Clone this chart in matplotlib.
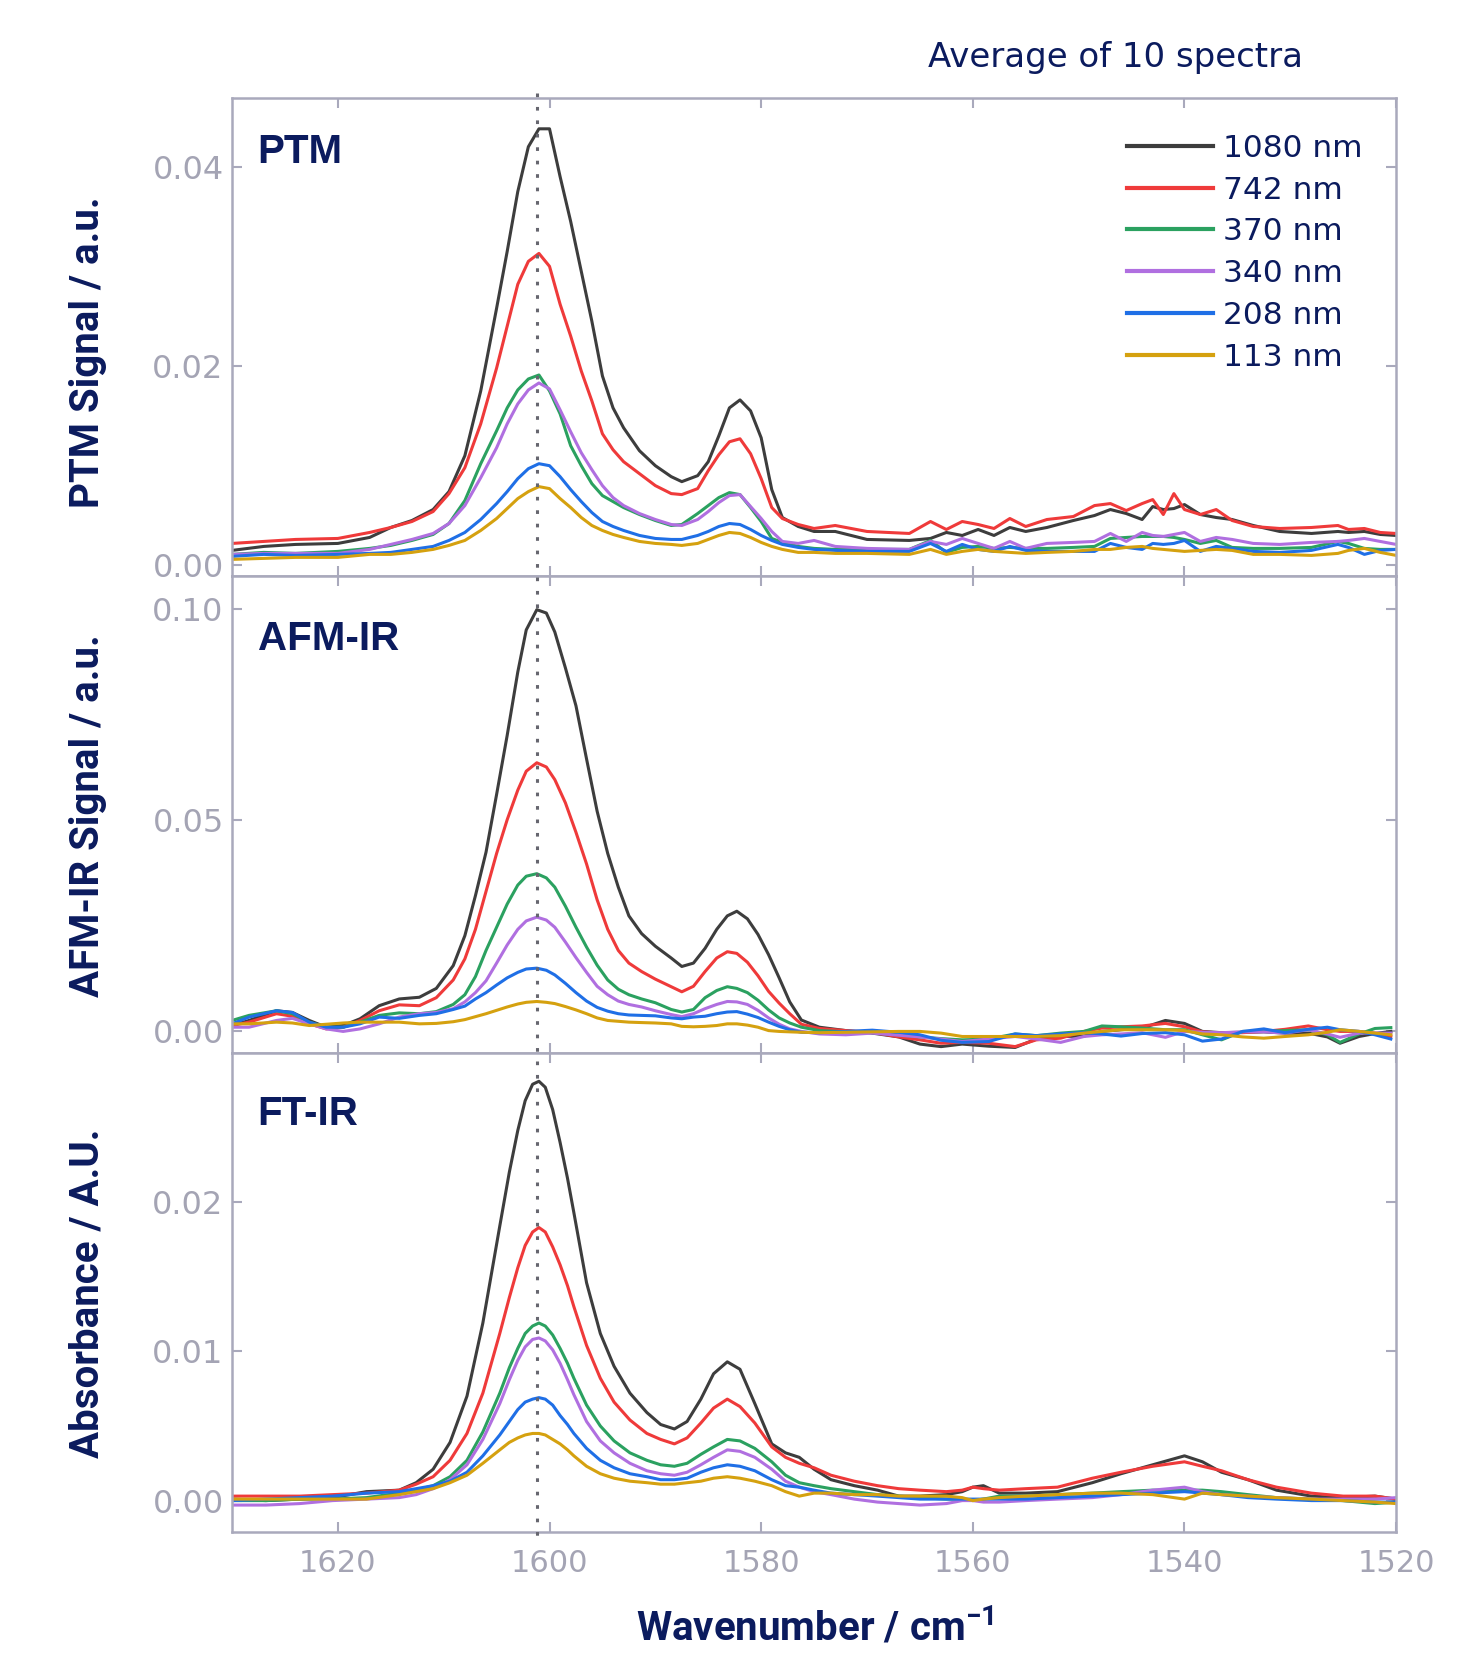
import matplotlib.pyplot as plt
from matplotlib.lines import Line2D
from matplotlib.transforms import blended_transform_factory

# legend labels and line colours (tip size)
LABELS = ['1080 nm', '742 nm', '370 nm', '340 nm', '208 nm', '113 nm']
COLORS = ['#3d3d3d', '#ef3a3a', '#2ba160', '#b06fe0', '#1f6fe6', '#d5a10f']
PEAK_POS = 1601.2

# ---- PTM spectra ----
PTM_X = [1630, 1627, 1624, 1620, 1617, 1615, 1613, 1611, 1609.5, 1608,
         1606.5, 1605, 1604, 1603, 1602, 1601, 1600, 1599, 1598, 1597,
         1596, 1595, 1594, 1593, 1591.5, 1590, 1588.5, 1587.5, 1586, 1585,
         1584, 1583, 1582, 1581, 1580, 1579, 1578, 1576.5, 1575, 1573,
         1570, 1566, 1564, 1562.5, 1561, 1559.5, 1558, 1556.5, 1555, 1553,
         1550.5, 1548.5, 1547, 1545.5, 1544, 1543, 1542, 1541, 1540, 1538.5,
         1537, 1535.5, 1533.5, 1531, 1528, 1525.5, 1524.5, 1523, 1521.5, 1520]
PTM_1080 = [0.0015, 0.0019, 0.0021, 0.0022, 0.0028, 0.0038, 0.0045, 0.0056, 0.0074, 0.0110,
            0.0175, 0.0258, 0.0315, 0.0375, 0.0420, 0.0438, 0.0438, 0.0390, 0.0345, 0.0295,
            0.0245, 0.0190, 0.0158, 0.0138, 0.0115, 0.0100, 0.0089, 0.0084, 0.0090, 0.0104,
            0.0130, 0.0158, 0.0166, 0.0155, 0.0128, 0.0076, 0.0048, 0.0039, 0.0034, 0.0034,
            0.0026, 0.0025, 0.0027, 0.0033, 0.0030, 0.0036, 0.0030, 0.0038, 0.0034, 0.0038,
            0.0045, 0.0050, 0.0056, 0.0052, 0.0046, 0.0059, 0.0056, 0.0057, 0.0061, 0.0051,
            0.0048, 0.0046, 0.0040, 0.0034, 0.0032, 0.0034, 0.0033, 0.0034, 0.0031, 0.0030]
PTM_742 = [0.0022, 0.0024, 0.0026, 0.0027, 0.0033, 0.0038, 0.0044, 0.0054, 0.0072, 0.0098,
           0.0142, 0.0198, 0.0240, 0.0282, 0.0305, 0.0313, 0.0300, 0.0262, 0.0230, 0.0195,
           0.0165, 0.0132, 0.0116, 0.0104, 0.0092, 0.0080, 0.0072, 0.0071, 0.0077, 0.0095,
           0.0111, 0.0124, 0.0127, 0.0112, 0.0087, 0.0058, 0.0047, 0.0041, 0.0037, 0.0040,
           0.0034, 0.0032, 0.0044, 0.0036, 0.0044, 0.0041, 0.0037, 0.0047, 0.0039, 0.0046,
           0.0049, 0.0060, 0.0062, 0.0055, 0.0062, 0.0066, 0.0051, 0.0072, 0.0056, 0.0051,
           0.0056, 0.0045, 0.0039, 0.0037, 0.0038, 0.0040, 0.0036, 0.0037, 0.0033, 0.0032]
PTM_370 = [0.0011, 0.0013, 0.0012, 0.0014, 0.0017, 0.0020, 0.0025, 0.0031, 0.0042, 0.0065,
           0.0102, 0.0135, 0.0158, 0.0176, 0.0187, 0.0191, 0.0175, 0.0152, 0.0120, 0.0100,
           0.0082, 0.0070, 0.0064, 0.0058, 0.0051, 0.0045, 0.0040, 0.0041, 0.0052, 0.0060,
           0.0068, 0.0073, 0.0071, 0.0058, 0.0044, 0.0027, 0.0023, 0.0019, 0.0017, 0.0016,
           0.0016, 0.0016, 0.0025, 0.0013, 0.0018, 0.0019, 0.0017, 0.0018, 0.0017, 0.0017,
           0.0018, 0.0019, 0.0027, 0.0028, 0.0029, 0.0029, 0.0029, 0.0028, 0.0026, 0.0022,
           0.0025, 0.0018, 0.0017, 0.0017, 0.0018, 0.0024, 0.0022, 0.0017, 0.0016, 0.0016]
PTM_340 = [0.0011, 0.0012, 0.0012, 0.0012, 0.0016, 0.0021, 0.0026, 0.0032, 0.0042, 0.0060,
           0.0088, 0.0118, 0.0142, 0.0162, 0.0176, 0.0183, 0.0177, 0.0156, 0.0134, 0.0113,
           0.0096, 0.0080, 0.0068, 0.0060, 0.0052, 0.0046, 0.0041, 0.0040, 0.0046, 0.0054,
           0.0063, 0.0070, 0.0071, 0.0059, 0.0047, 0.0034, 0.0024, 0.0022, 0.0025, 0.0019,
           0.0017, 0.0016, 0.0024, 0.0021, 0.0027, 0.0022, 0.0017, 0.0024, 0.0017, 0.0022,
           0.0023, 0.0024, 0.0032, 0.0024, 0.0033, 0.0030, 0.0029, 0.0031, 0.0033, 0.0024,
           0.0028, 0.0026, 0.0022, 0.0021, 0.0023, 0.0024, 0.0025, 0.0027, 0.0024, 0.0021]
PTM_208 = [0.0009, 0.0011, 0.0010, 0.0011, 0.0012, 0.0013, 0.0016, 0.0019, 0.0025, 0.0033,
           0.0046, 0.0062, 0.0074, 0.0087, 0.0097, 0.0102, 0.0100, 0.0089, 0.0076, 0.0064,
           0.0053, 0.0044, 0.0039, 0.0035, 0.0030, 0.0027, 0.0026, 0.0026, 0.0030, 0.0034,
           0.0039, 0.0042, 0.0041, 0.0036, 0.0030, 0.0025, 0.0021, 0.0018, 0.0016, 0.0015,
           0.0014, 0.0014, 0.0022, 0.0014, 0.0021, 0.0016, 0.0014, 0.0019, 0.0015, 0.0014,
           0.0014, 0.0014, 0.0022, 0.0018, 0.0016, 0.0022, 0.0021, 0.0022, 0.0025, 0.0014,
           0.0019, 0.0017, 0.0014, 0.0013, 0.0015, 0.0021, 0.0018, 0.0011, 0.0015, 0.0016]
PTM_113 = [0.0006, 0.0007, 0.0008, 0.0008, 0.0011, 0.0011, 0.0013, 0.0016, 0.0020, 0.0025,
           0.0035, 0.0047, 0.0057, 0.0067, 0.0074, 0.0079, 0.0077, 0.0067, 0.0058, 0.0048,
           0.0040, 0.0035, 0.0031, 0.0028, 0.0024, 0.0022, 0.0021, 0.0020, 0.0022, 0.0026,
           0.0030, 0.0033, 0.0032, 0.0028, 0.0023, 0.0019, 0.0016, 0.0013, 0.0013, 0.0012,
           0.0012, 0.0011, 0.0016, 0.0011, 0.0014, 0.0016, 0.0014, 0.0013, 0.0012, 0.0013,
           0.0014, 0.0016, 0.0016, 0.0018, 0.0019, 0.0017, 0.0016, 0.0015, 0.0014, 0.0015,
           0.0016, 0.0015, 0.0011, 0.0011, 0.0010, 0.0012, 0.0015, 0.0017, 0.0013, 0.0010]

# ---- AFM-IR spectra ----
AFM_X = [1630, 1628.4, 1625.8, 1624.3, 1622.7, 1621.1, 1619.5, 1617.9, 1616.1, 1614.2,
         1612.3, 1610.7, 1609.1, 1608.0, 1607.0, 1606.0, 1605.0, 1604.0, 1603.0, 1602.2,
         1601.2, 1600.3, 1599.5, 1598.5, 1597.5, 1596.5, 1595.5, 1594.5, 1593.5, 1592.5,
         1591.3, 1590, 1588.5, 1587.5, 1586.4, 1585.3, 1584.2, 1583.2, 1582.3, 1581.3,
         1580.3, 1579.3, 1578.3, 1577.3, 1576.2, 1574.5, 1572, 1569.5, 1567, 1565,
         1563, 1561, 1558.5, 1556, 1554, 1551.7, 1549.5, 1547.8, 1546, 1544,
         1541.8, 1540, 1538.3, 1536.5, 1534.5, 1532.5, 1530.5, 1528.3, 1526.5, 1525.3,
         1523.5, 1522, 1520.5]
AFM_1080 = [0.0012, 0.0024, 0.0047, 0.0043, 0.0024, 0.0008, 0.0012, 0.0028, 0.0059, 0.0075,
            0.0079, 0.0100, 0.0154, 0.0225, 0.0320, 0.0423, 0.0560, 0.0700, 0.0850, 0.0950,
            0.0998, 0.0990, 0.0945, 0.0860, 0.0770, 0.0644, 0.0520, 0.0420, 0.0340, 0.0272,
            0.0230, 0.0200, 0.0172, 0.0152, 0.0160, 0.0195, 0.0240, 0.0272, 0.0283, 0.0265,
            0.0228, 0.0180, 0.0125, 0.0068, 0.0025, 0.0008, 0.0000, -0.0006, -0.0015, -0.0032,
            -0.0038, -0.0032, -0.0037, -0.0040, -0.0020, -0.0014, -0.0013, -0.0002, 0.0002, 0.0006,
            0.0024, 0.0017, -0.0002, -0.0005, -0.0004, -0.0003, -0.0006, -0.0006, -0.0015, -0.0030,
            -0.0014, -0.0007, -0.0002]
AFM_742 = [0.0012, 0.0020, 0.0040, 0.0034, 0.0016, 0.0004, 0.0008, 0.0024, 0.0047, 0.0061,
           0.0059, 0.0078, 0.0120, 0.0170, 0.0240, 0.0330, 0.0420, 0.0500, 0.0570, 0.0615,
           0.0635, 0.0625, 0.0595, 0.0540, 0.0470, 0.0395, 0.0310, 0.0240, 0.0190, 0.0160,
           0.0140, 0.0122, 0.0104, 0.0092, 0.0105, 0.0140, 0.0172, 0.0187, 0.0183, 0.0162,
           0.0130, 0.0093, 0.0065, 0.0040, 0.0015, 0.0005, 0.0000, -0.0004, -0.0015, -0.0022,
           -0.0030, -0.0028, -0.0030, -0.0038, -0.0022, -0.0018, -0.0002, 0.0006, 0.0009, 0.0011,
           0.0017, 0.0009, -0.0003, -0.0006, -0.0005, -0.0002, 0.0003, 0.0011, 0.0002, -0.0002,
           -0.0002, -0.0006, -0.0014]
AFM_370 = [0.0024, 0.0036, 0.0047, 0.0040, 0.0020, 0.0008, 0.0008, 0.0020, 0.0036, 0.0042,
           0.0040, 0.0045, 0.0062, 0.0085, 0.0128, 0.0190, 0.0245, 0.0300, 0.0345, 0.0366,
           0.0372, 0.0362, 0.0340, 0.0295, 0.0245, 0.0198, 0.0155, 0.0120, 0.0098, 0.0085,
           0.0075, 0.0066, 0.0050, 0.0044, 0.0050, 0.0078, 0.0095, 0.0104, 0.0100, 0.0090,
           0.0072, 0.0049, 0.0030, 0.0018, 0.0008, 0.0000, -0.0003, -0.0005, -0.0010, -0.0015,
           -0.0019, -0.0022, -0.0020, -0.0008, -0.0012, -0.0006, -0.0002, 0.0011, 0.0009, 0.0006,
           0.0002, 0.0002, -0.0010, -0.0022, -0.0002, -0.0002, 0.0000, 0.0002, -0.0010, -0.0028,
           -0.0008, 0.0005, 0.0007]
AFM_340 = [0.0008, 0.0008, 0.0024, 0.0029, 0.0016, 0.0004, -0.0002, 0.0004, 0.0016, 0.0032,
           0.0040, 0.0043, 0.0052, 0.0068, 0.0090, 0.0118, 0.0160, 0.0203, 0.0240, 0.0260,
           0.0269, 0.0262, 0.0245, 0.0210, 0.0173, 0.0138, 0.0105, 0.0085, 0.0070, 0.0062,
           0.0056, 0.0047, 0.0038, 0.0033, 0.0040, 0.0052, 0.0062, 0.0069, 0.0068, 0.0062,
           0.0048, 0.0030, 0.0015, 0.0004, -0.0002, -0.0008, -0.0010, -0.0006, -0.0011, -0.0015,
           -0.0020, -0.0026, -0.0020, -0.0014, -0.0020, -0.0028, -0.0014, -0.0010, -0.0008, -0.0005,
           -0.0016, -0.0002, -0.0004, -0.0005, -0.0003, -0.0003, -0.0006, 0.0002, -0.0008, -0.0016,
           -0.0006, -0.0006, -0.0006]
AFM_208 = [0.0016, 0.0032, 0.0047, 0.0043, 0.0020, 0.0008, 0.0008, 0.0016, 0.0032, 0.0029,
           0.0036, 0.0040, 0.0050, 0.0058, 0.0075, 0.0090, 0.0108, 0.0125, 0.0138, 0.0146,
           0.0148, 0.0143, 0.0132, 0.0112, 0.0090, 0.0070, 0.0055, 0.0046, 0.0040, 0.0037,
           0.0036, 0.0035, 0.0030, 0.0028, 0.0032, 0.0034, 0.0040, 0.0044, 0.0045, 0.0039,
           0.0031, 0.0020, 0.0010, 0.0002, -0.0004, -0.0005, -0.0002, 0.0001, -0.0004, -0.0010,
           -0.0023, -0.0028, -0.0026, -0.0008, -0.0012, -0.0008, -0.0005, -0.0008, -0.0013, -0.0007,
           -0.0005, -0.0010, -0.0025, -0.0020, -0.0002, 0.0004, -0.0005, 0.0003, 0.0008, 0.0002,
           -0.0002, -0.0010, -0.0020]
AFM_113 = [0.0016, 0.0016, 0.0020, 0.0018, 0.0012, 0.0015, 0.0018, 0.0020, 0.0020, 0.0020,
           0.0016, 0.0017, 0.0021, 0.0026, 0.0033, 0.0040, 0.0048, 0.0056, 0.0063, 0.0067,
           0.0069, 0.0067, 0.0064, 0.0057, 0.0049, 0.0040, 0.0030, 0.0024, 0.0022, 0.0020,
           0.0019, 0.0018, 0.0016, 0.0010, 0.0009, 0.0010, 0.0012, 0.0016, 0.0016, 0.0013,
           0.0008, 0.0000, -0.0002, -0.0003, -0.0004, -0.0005, -0.0004, -0.0003, -0.0002, -0.0002,
           -0.0006, -0.0014, -0.0014, -0.0014, -0.0014, -0.0012, -0.0006, -0.0002, 0.0002, 0.0002,
           0.0002, 0.0000, -0.0008, -0.0010, -0.0015, -0.0018, -0.0014, -0.0010, -0.0004, 0.0002,
           -0.0002, -0.0006, -0.0010]

# ---- FT-IR spectra ----
FT_X = [1630, 1626.8, 1623.6, 1620.5, 1617.3, 1614.2, 1612.6, 1611.0, 1609.4, 1607.8,
        1606.3, 1604.7, 1603.8, 1603.0, 1602.3, 1601.6, 1601.0, 1600.4, 1599.7, 1599.0,
        1598.3, 1597.7, 1596.5, 1595.2,
        1593.9, 1592.4, 1590.8, 1589.5, 1588.2, 1587.0, 1585.7, 1584.5, 1583.2, 1582.0,
        1580.6, 1579.0, 1577.7, 1576.4, 1575.0, 1573.4, 1571.2, 1569.0, 1567.0, 1565.0,
        1562.5, 1561.0, 1560.0, 1559.0, 1557.5, 1555.0, 1552.0, 1548.7, 1546.0, 1543.0,
        1540.0, 1538.3, 1536.5, 1534.0, 1531.3, 1528.0, 1525.0, 1522.0, 1520.0]
FT_1080 = [0.0001, 0.0000, 0.0001, 0.0002, 0.0006, 0.0007, 0.0012, 0.0021, 0.0039, 0.0070,
           0.0119, 0.0184, 0.0220, 0.0248, 0.0268, 0.0279, 0.0281, 0.0277, 0.0262, 0.0240,
           0.0216, 0.0193, 0.0146, 0.0112,
           0.0090, 0.0072, 0.0059, 0.0051, 0.0048, 0.0053, 0.0068, 0.0085, 0.0093, 0.0088,
           0.0065, 0.0038, 0.0032, 0.0029, 0.0021, 0.0014, 0.0010, 0.0007, 0.0003, 0.0003,
           0.0004, 0.0006, 0.0009, 0.0010, 0.0005, 0.0005, 0.0006, 0.0012, 0.0018, 0.0024,
           0.0030, 0.0026, 0.0019, 0.0014, 0.0007, 0.0003, 0.0002, 0.0003, 0.0001]
FT_742 = [0.0003, 0.0003, 0.0003, 0.0004, 0.0005, 0.0007, 0.0011, 0.0016, 0.0027, 0.0045,
          0.0072, 0.0112, 0.0136, 0.0156, 0.0171, 0.0180, 0.0183, 0.0180, 0.0170, 0.0158,
          0.0144, 0.0130, 0.0104, 0.0082,
          0.0066, 0.0054, 0.0045, 0.0041, 0.0038, 0.0042, 0.0052, 0.0062, 0.0068, 0.0063,
          0.0052, 0.0036, 0.0029, 0.0025, 0.0022, 0.0017, 0.0013, 0.0010, 0.0008, 0.0007,
          0.0006, 0.0007, 0.0009, 0.0008, 0.0007, 0.0008, 0.0009, 0.0015, 0.0019, 0.0023,
          0.0026, 0.0023, 0.0020, 0.0014, 0.0009, 0.0005, 0.0003, 0.0003, 0.0001]
FT_370 = [0.0000, 0.0000, 0.0001, 0.0001, 0.0002, 0.0005, 0.0007, 0.0010, 0.0016, 0.0027,
          0.0046, 0.0072, 0.0089, 0.0102, 0.0112, 0.0117, 0.0119, 0.0117, 0.0111, 0.0102,
          0.0092, 0.0082, 0.0064, 0.0050,
          0.0040, 0.0032, 0.0027, 0.0024, 0.0023, 0.0025, 0.0031, 0.0036, 0.0041, 0.0040,
          0.0035, 0.0026, 0.0017, 0.0012, 0.0010, 0.0008, 0.0006, 0.0004, 0.0003, 0.0002,
          0.0001, 0.0001, 0.0000, 0.0001, 0.0003, 0.0003, 0.0004, 0.0005, 0.0006, 0.0007,
          0.0007, 0.0007, 0.0006, 0.0004, 0.0002, 0.0001, 0.0000, -0.0002, -0.0001]
FT_340 = [-0.0003, -0.0003, -0.0002, 0.0000, 0.0001, 0.0002, 0.0004, 0.0008, 0.0014, 0.0024,
          0.0041, 0.0065, 0.0081, 0.0094, 0.0103, 0.0108, 0.0109, 0.0107, 0.0101, 0.0092,
          0.0081, 0.0071, 0.0053, 0.0040,
          0.0032, 0.0025, 0.0020, 0.0018, 0.0017, 0.0019, 0.0024, 0.0029, 0.0034, 0.0033,
          0.0029, 0.0021, 0.0013, 0.0009, 0.0006, 0.0004, 0.0001, -0.0001, -0.0002, -0.0003,
          -0.0002, 0.0000, 0.0000, -0.0001, -0.0001, 0.0000, 0.0001, 0.0002, 0.0004, 0.0007,
          0.0009, 0.0006, 0.0004, 0.0003, 0.0002, 0.0001, 0.0001, 0.0001, 0.0002]
FT_208 = [0.0000, 0.0001, 0.0002, 0.0003, 0.0005, 0.0006, 0.0008, 0.0010, 0.0013, 0.0019,
          0.0030, 0.0044, 0.0053, 0.0061, 0.0066, 0.0068, 0.0069, 0.0068, 0.0064, 0.0057,
          0.0051, 0.0045, 0.0035, 0.0027,
          0.0022, 0.0018, 0.0016, 0.0014, 0.0014, 0.0015, 0.0019, 0.0022, 0.0024, 0.0023,
          0.0020, 0.0014, 0.0010, 0.0009, 0.0007, 0.0005, 0.0004, 0.0003, 0.0002, 0.0001,
          0.0001, 0.0001, 0.0001, 0.0001, 0.0001, 0.0001, 0.0002, 0.0003, 0.0004, 0.0005,
          0.0006, 0.0005, 0.0004, 0.0002, 0.0001, 0.0000, 0.0000, -0.0001, -0.0001]
FT_113 = [0.0001, 0.0001, 0.0001, 0.0001, 0.0001, 0.0004, 0.0006, 0.0008, 0.0012, 0.0017,
          0.0025, 0.0034, 0.0039, 0.0042, 0.0044, 0.0045, 0.0045, 0.0044, 0.0041, 0.0038,
          0.0034, 0.0030, 0.0023, 0.0018,
          0.0015, 0.0013, 0.0012, 0.0011, 0.0011, 0.0012, 0.0013, 0.0015, 0.0016, 0.0015,
          0.0013, 0.0010, 0.0006, 0.0003, 0.0005, 0.0005, 0.0004, 0.0004, 0.0003, 0.0003,
          0.0003, 0.0002, 0.0000, 0.0001, 0.0002, 0.0003, 0.0004, 0.0005, 0.0005, 0.0004,
          0.0001, 0.0005, 0.0004, 0.0003, 0.0002, 0.0001, 0.0000, -0.0001, -0.0002]

NAVY = '#0b1b5e'
SPINE = '#a9a9bc'
TICKTXT = '#a4a4b4'

fig = plt.figure(figsize=(14.78, 16.54), dpi=100)

# panel settings: (x, series, y limits, y ticks, tag, y label, label centre)
panels = [
    (PTM_X, [PTM_1080, PTM_742, PTM_370, PTM_340, PTM_208, PTM_113],
     (-0.00106, 0.0469), [0, 0.02, 0.04], 'PTM', 'PTM Signal / a.u.', 0.787),
    (AFM_X, [AFM_1080, AFM_742, AFM_370, AFM_340, AFM_208, AFM_113],
     (-0.0053, 0.1078), [0, 0.05, 0.10], 'AFM-IR', 'AFM-IR Signal / a.u.', 0.507),
    (FT_X, [FT_1080, FT_742, FT_370, FT_340, FT_208, FT_113],
     (-0.0021, 0.0300), [0, 0.01, 0.02], 'FT-IR', 'Absorbance / A.U.', 0.218),
]
boxes = [[0.157, 0.6518, 0.7876, 0.2890],
         [0.157, 0.3634, 0.7876, 0.2884],
         [0.157, 0.0738, 0.7876, 0.2896]]
tag_y = [0.927, 0.908, 0.912]

axes = []
for i, (x, series, ylim, yt, tag, ylab, ylab_y) in enumerate(panels):
    ax = fig.add_axes(boxes[i])
    axes.append(ax)
    for y, c, lab in zip(series, COLORS, LABELS):
        ax.plot(x, y, color=c, lw=2.2, label=lab, solid_joinstyle='round')
    ax.set_xlim(1630, 1520)
    ax.set_ylim(*ylim)
    ax.set_yticks(yt)
    ax.set_yticklabels([f'{v:.2f}' for v in yt])
    ax.set_xticks([1620, 1600, 1580, 1560, 1540, 1520])
    for s in ax.spines.values():
        s.set_color(SPINE)
        s.set_linewidth(1.8)
    ax.tick_params(direction='in', length=7, width=1.5, color=SPINE,
                   top=True, right=True, labelsize=22, labelcolor=TICKTXT)
    ax.tick_params(axis='y', labelsize=23, pad=6)
    ax.tick_params(axis='x', pad=12)
    if i < 2:
        ax.tick_params(labelbottom=False)
    for lbl in ax.get_xticklabels() + ax.get_yticklabels():
        lbl.set_fontfamily('DejaVu Sans')
    ax.text(0.022, tag_y[i], tag, transform=ax.transAxes, ha='left', va='top',
            fontsize=29, fontweight='bold', color=NAVY, family='Liberation Sans')
    fig.text(0.0595, ylab_y, ylab, rotation=90, ha='center', va='center',
             fontsize=29, fontweight='semibold', color=NAVY, family='Roboto')

# legend in the top panel
leg = axes[0].legend(loc='upper left', bbox_to_anchor=(0.769, 0.925), frameon=False,
                     fontsize=22.5, handlelength=2.75, handletextpad=0.3,
                     labelspacing=0.41, borderpad=0, borderaxespad=0)
for t in leg.get_texts():
    t.set_color(NAVY)
for h in leg.get_lines():
    h.set_linewidth(3.0)

# dotted line at the main band, across all panels
tr = blended_transform_factory(axes[2].transData, fig.transFigure)
fig.add_artist(Line2D([PEAK_POS, PEAK_POS], [0.944, 0.068], transform=tr,
                      color='#66666f', lw=2.2, linestyle=(0, (1.2, 3.2)), zorder=5))

fig.text(1303 / 1478, 1 - 57 / 1654, 'Average of 10 spectra', ha='right', va='center',
         fontsize=24.5, color=NAVY)
fig.text(815 / 1478, 1 - 1628 / 1654, 'Wavenumber / cm$^{\\mathregular{-1}}$', ha='center',
         va='center', fontsize=29, fontweight='semibold', color=NAVY, family='Roboto')

fig.savefig('out.png', dpi=100)
